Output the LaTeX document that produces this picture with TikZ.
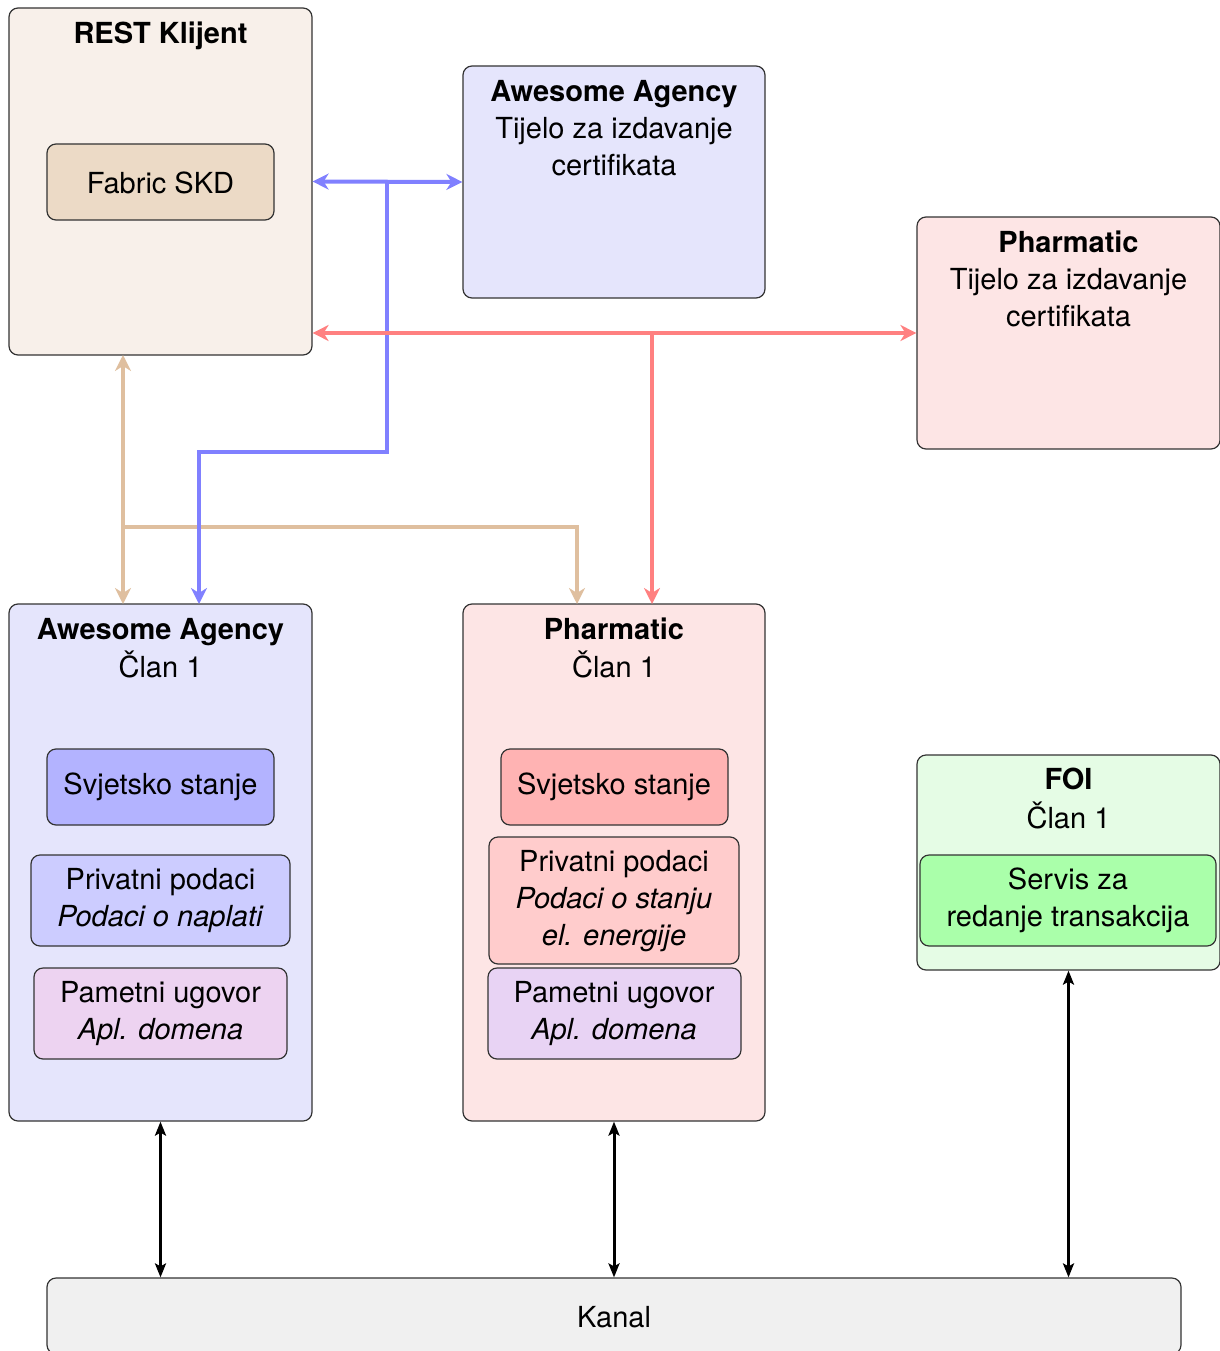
\documentclass[tikz,border=0pt]{standalone}
\usepackage{fontspec}
\setmainfont{TeX Gyre Heros}
\usetikzlibrary{arrows.meta,calc}
\definecolor{restfill}{HTML}{F8F0EA}
\definecolor{fabfill}{HTML}{ECDAC6}
\definecolor{aafill}{HTML}{E5E5FC}
\definecolor{phfill}{HTML}{FDE5E5}
\definecolor{foifill}{HTML}{E5FCE5}
\definecolor{kanfill}{HTML}{F0F0F0}
\definecolor{aass}{HTML}{B3B3FF}
\definecolor{aapp}{HTML}{CCCCFF}
\definecolor{aapu}{HTML}{EDD3F1}
\definecolor{phss}{HTML}{FFB3B3}
\definecolor{phpp}{HTML}{FFCCCC}
\definecolor{phpu}{HTML}{E8D3F4}
\definecolor{foisv}{HTML}{AAFFAA}
\definecolor{bluea}{HTML}{8080FF}
\definecolor{reda}{HTML}{FF8080}
\definecolor{tana}{HTML}{DFBF9F}
\tikzset{
  box/.style={draw=black!80, line width=1.2pt, rounded corners=9pt, inner sep=0pt, align=center},
  lbl/.style={inner sep=0pt, align=center, font=\fontsize{29}{37}\selectfont},
  ttl/.style={lbl, font=\fontsize{29}{37}\selectfont\bfseries},
  carr/.style={line width=4pt, arrows={-Stealth[length=16pt,width=16pt,inset=5pt]}},
  dcarr/.style={line width=4pt, arrows={Stealth[length=16pt,width=16pt,inset=5pt]-Stealth[length=16pt,width=16pt,inset=5pt]}},
  karr/.style={line width=3pt, black, arrows={Stealth[length=14pt,width=11pt,inset=3pt]-Stealth[length=14pt,width=11pt,inset=3pt]}},
}
\begin{document}
\begin{tikzpicture}[x=1pt,y=-1pt]
\useasboundingbox (0,0) rectangle (1219,1351);
% containers
\node[box, fill=restfill, minimum width=303pt, minimum height=347pt] (rest) at (160.5,181.5) {};
\node[box, fill=aafill, minimum width=302pt, minimum height=232pt] (aaca) at (614,182) {};
\node[box, fill=phfill, minimum width=303pt, minimum height=232pt] (phca) at (1068.5,333) {};
\node[box, fill=aafill, minimum width=303pt, minimum height=517pt] (aam) at (160.5,862.5) {};
\node[box, fill=phfill, minimum width=302pt, minimum height=517pt] (phm) at (614,862.5) {};
\node[box, fill=foifill, minimum width=303pt, minimum height=215pt] (foi) at (1068.5,862.5) {};
\node[box, fill=kanfill, minimum width=1134pt, minimum height=76pt] (kanal) at (614,1316) {};
% titles
\node[ttl] (restt) at (160.5,36) {REST Klijent};
\node[lbl, anchor=north] (aacat) at (614,80) {\textbf{Awesome Agency}\\Tijelo za izdavanje\\certifikata};
\node[lbl, anchor=north] (phcat) at (1068.5,231) {\textbf{Pharmatic}\\Tijelo za izdavanje\\certifikata};
\node[lbl, anchor=north] (aamt) at (160.5,618) {\textbf{Awesome Agency}\\[1pt]Član 1};
\node[lbl, anchor=north] (phmt) at (614,618) {\textbf{Pharmatic}\\[1pt]Član 1};
\node[lbl, anchor=north] (foit) at (1068.5,768) {\textbf{FOI}\\[2pt]Član 1};
\node[lbl] (kant) at (614,1317) {Kanal};
% inner boxes
\node[box, fill=fabfill, minimum width=227pt, minimum height=76pt] (fab) at (160.5,182) {};
\node[lbl] at (160.5,183) {Fabric SKD};
\node[box, fill=aass, minimum width=227pt, minimum height=76pt] (aass) at (160.5,787) {};
\node[lbl] at (160.5,787) {Svjetsko stanje};
\node[box, fill=aapp, minimum width=259pt, minimum height=91pt] (aapp) at (160.5,900.5) {};
\node[lbl, anchor=north] at (160.5,868) {Privatni podaci\\\textit{Podaci o naplati}};
\node[box, fill=aapu, minimum width=253pt, minimum height=91pt] (aapu) at (160.5,1013.5) {};
\node[lbl, anchor=north] at (160.5,981) {Pametni ugovor\\\textit{Apl. domena}};
\node[box, fill=phss, minimum width=227pt, minimum height=76pt] (phss) at (614.5,787) {};
\node[lbl] at (614,787) {Svjetsko stanje};
\node[box, fill=phpp, minimum width=250pt, minimum height=127pt] (phpp) at (614,900.5) {};
\node[lbl, anchor=north] at (614,850) {Privatni podaci\\\textit{Podaci o stanju}\\\textit{el. energije}};
\node[box, fill=phpu, minimum width=253pt, minimum height=91pt] (phpu) at (614.5,1013.5) {};
\node[lbl, anchor=north] at (614,981) {Pametni ugovor\\\textit{Apl. domena}};
\node[box, fill=foisv, minimum width=296pt, minimum height=91pt] (foisv) at (1068,900.5) {};
\node[lbl, anchor=north] at (1068,868) {Servis za\\redanje transakcija};
% connectors
\coordinate (bj) at (387,182);
\coordinate (bk) at (387,452);
\coordinate (aamB) at (199,604);
\coordinate (rj) at (652,333);
\coordinate (phmR) at (652,604);
\coordinate (aamT) at (123,604);
\coordinate (restT) at (123,355);
\coordinate (tj) at (123,527);
\coordinate (phmT) at (577,604);
\draw[dcarr, tana] (aamT) -- (restT);
\draw[carr, tana] (tj) -| (phmT);
\draw[dcarr, bluea] (rest.east) -- (aaca.west);
\draw[carr, bluea] (bj) -- (bk) -| (aamB);
\draw[dcarr, reda] (rest.east |- phca.west) -- (phca.west);
\draw[carr, reda] (rj) -- (phmR);
\draw[karr] (aam.south) -- (kanal.north -| aam.south);
\draw[karr] (phm.south) -- (kanal.north -| phm.south);
\draw[karr] (foi.south) -- (kanal.north -| foi.south);
\end{tikzpicture}
\end{document}
